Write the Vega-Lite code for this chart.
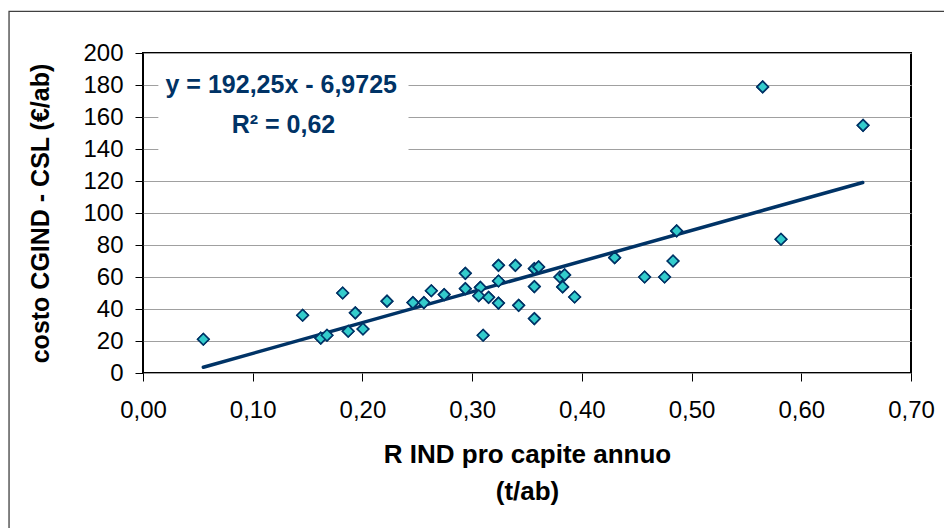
{
  "$schema": "https://vega.github.io/schema/vega-lite/v6.json",
  "width": 768,
  "height": 320,
  "autosize": "none",
  "padding": {"left": 143, "top": 53, "right": 33, "bottom": 155},
  "background": "white",
  "config": {
    "font": "Liberation Sans",
    "view": {"stroke": "black", "strokeWidth": 2},
    "axis": {"labelOverlap": false, "labelBound": false, "labelFlush": false, "labelFontSize": 24, "labelColor": "black", "tickColor": "black", "tickSize": 8, "domain": false, "titleColor": "black", "titleFontWeight": "bold"}
  },
  "datasets": {
    "points": [
      {"x": 0.055, "y": 21.1}, {"x": 0.1455, "y": 36.1}, {"x": 0.162, "y": 21.8}, {"x": 0.1677, "y": 23.6},
      {"x": 0.182, "y": 50.0}, {"x": 0.187, "y": 26.1}, {"x": 0.1935, "y": 37.6}, {"x": 0.2005, "y": 27.5},
      {"x": 0.2224, "y": 44.9}, {"x": 0.246, "y": 44.0}, {"x": 0.256, "y": 44.0}, {"x": 0.2628, "y": 51.4},
      {"x": 0.2745, "y": 49.0}, {"x": 0.2938, "y": 62.3}, {"x": 0.2938, "y": 52.7}, {"x": 0.3075, "y": 53.5},
      {"x": 0.306, "y": 48.3}, {"x": 0.31, "y": 23.6}, {"x": 0.315, "y": 47.3}, {"x": 0.324, "y": 67.3},
      {"x": 0.324, "y": 57.5}, {"x": 0.324, "y": 43.7}, {"x": 0.3394, "y": 67.3}, {"x": 0.3424, "y": 42.3},
      {"x": 0.3567, "y": 34.0}, {"x": 0.3567, "y": 54.0}, {"x": 0.3567, "y": 65.2}, {"x": 0.3606, "y": 66.3},
      {"x": 0.38, "y": 60.0}, {"x": 0.3843, "y": 61.3}, {"x": 0.3825, "y": 53.8}, {"x": 0.3934, "y": 47.5},
      {"x": 0.4299, "y": 72.1}, {"x": 0.4572, "y": 60.0}, {"x": 0.4754, "y": 60.0}, {"x": 0.4831, "y": 70.0},
      {"x": 0.4864, "y": 88.8}, {"x": 0.5648, "y": 178.8}, {"x": 0.5815, "y": 83.6}, {"x": 0.6563, "y": 154.8}
    ],
    "trend": [
      {"x": 0.055, "y": 3.6},
      {"x": 0.656, "y": 119.1}
    ],
    "labels": [
      {"x": 0.126, "y": 180, "t": "y = 192,25x  - 6,9725"},
      {"x": 0.128, "y": 155.3, "t": "R² = 0,62"}
    ],
    "one": [{}]
  },
  "layer": [
    {
      "data": {"name": "points"},
      "mark": {"type": "point", "shape": "diamond", "filled": true, "fill": "#33CCCC", "stroke": "#003366", "strokeWidth": 1.6, "size": 130, "opacity": 1},
      "encoding": {
        "x": {
          "field": "x", "type": "quantitative",
          "scale": {"domain": [0, 0.7], "nice": false, "zero": false},
          "axis": {
            "title": ["R IND pro capite annuo", "(t/ab)"],
            "values": [0, 0.1, 0.2, 0.3, 0.4, 0.5, 0.6, 0.7],
            "tickCount": 8,
            "labelExpr": "replace(format(datum.value, '.2f'), '.', ',')",
            "grid": false, "domain": false, "labelOverlap": false,
            "ticks": true, "tickSize": 8, "tickColor": "black", "tickWidth": 1,
            "labelFontSize": 24, "labelColor": "black", "labelPadding": 17, "labelFlush": false,
            "titleFontSize": 26, "titleFontWeight": "bold", "titleColor": "black",
            "titlePadding": 19, "titleLineHeight": 37
          }
        },
        "y": {
          "field": "y", "type": "quantitative",
          "scale": {"domain": [0, 200], "nice": false},
          "axis": {
            "title": "costo CGIND - CSL (€/ab)",
            "values": [0, 20, 40, 60, 80, 100, 120, 140, 160, 180, 200],
            "tickCount": 11,
            "labelExpr": "format(datum.value, 'd')",
            "grid": true, "gridColor": "#a0a0a0", "gridWidth": 1,
            "domain": false, "labelOverlap": false,
            "ticks": true, "tickSize": 8, "tickColor": "black", "tickWidth": 1,
            "labelFontSize": 24, "labelColor": "black", "labelPadding": 12,
            "titleFontSize": 25, "titleFontWeight": "bold", "titleColor": "black",
            "titlePadding": 29
          }
        }
      }
    },
    {
      "data": {"name": "one"},
      "mark": {"type": "rect", "fill": "white", "stroke": null},
      "encoding": {
        "x": {"datum": 0.014, "type": "quantitative"},
        "x2": {"datum": 0.242},
        "y": {"datum": 197, "type": "quantitative"},
        "y2": {"datum": 131}
      }
    },
    {
      "data": {"name": "trend"},
      "mark": {"type": "line", "color": "#003366", "strokeWidth": 3.5, "strokeCap": "round"},
      "encoding": {
        "x": {"field": "x", "type": "quantitative"},
        "y": {"field": "y", "type": "quantitative"}
      }
    },
    {
      "data": {"name": "points"},
      "mark": {"type": "point", "shape": "diamond", "filled": true, "fill": "#33CCCC", "stroke": "#003366", "strokeWidth": 1.6, "size": 130, "opacity": 1},
      "encoding": {
        "x": {"field": "x", "type": "quantitative"},
        "y": {"field": "y", "type": "quantitative"}
      }
    },
    {
      "data": {"name": "labels"},
      "mark": {"type": "text", "font": "Liberation Sans", "fontWeight": "bold", "fontSize": 25, "color": "#003366", "align": "center", "baseline": "middle"},
      "encoding": {
        "x": {"field": "x", "type": "quantitative"},
        "y": {"field": "y", "type": "quantitative"},
        "text": {"field": "t"}
      }
    },
    {
      "data": {"name": "one"},
      "mark": {"type": "rect", "clip": false, "fill": "transparent", "stroke": "#404040", "strokeWidth": 1.3},
      "encoding": {
        "x": {"datum": -0.1221, "type": "quantitative"},
        "x2": {"datum": 0.8},
        "y": {"datum": 226, "type": "quantitative"},
        "y2": {"datum": -120}
      }
    }
  ]
}
